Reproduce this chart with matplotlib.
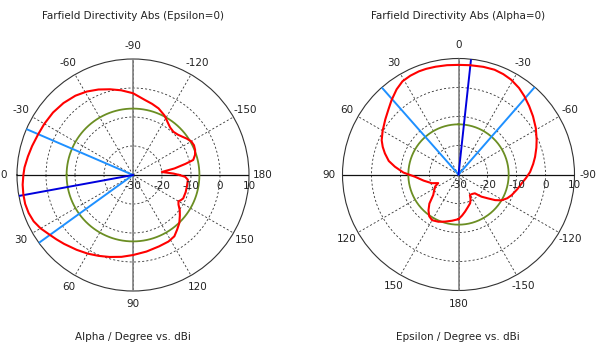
import matplotlib
matplotlib.use("Agg")
import matplotlib.pyplot as plt
import matplotlib.transforms as mtransforms
import numpy as np

# Epsilon = 0 cut: angle Alpha (deg) vs directivity (dBi)
alpha_deg = [-180, -178, -174, -171, -168, -166, -162, -158, -154, -150, -146, -142,
             -138, -133, -128, -124, -118, -111, -105, -99, -90, -82, -75, -68,
             -61, -54, -46, -38, -30, -23, -16, -10, -4, 0, 5, 10, 15, 20, 25,
             30, 35, 40, 45, 53, 60, 67, 74, 82, 90, 100, 110, 118, 124, 129,
             134, 139, 143, 147, 150, 152, 155, 162, 168, 175, 178, 180]
alpha_dbi = [-14.0, -16.0, -20.0, -15.5, -11.5, -8.6, -7.5, -6.9, -6.6, -6.8, -7.6, -8.5,
             -9.2, -9.6, -9.2, -8.4, -6.8, -5.4, -4.6, -3.8, -1.8, -0.5, 0.6, 1.8,
             2.9, 3.8, 4.5, 5.0, 5.3, 5.6, 6.2, 6.8, 7.5, 7.8, 8.2, 8.4, 8.5, 8.3, 7.8,
             6.8, 5.5, 4.5, 3.6, 2.3, 1.3, 0.3, -0.6, -1.5, -2.4, -3.2, -3.8, -4.0, -4.5, -5.8,
             -7.0, -8.6, -9.8, -11.3, -11.9, -11.4, -10.9, -10.9, -11.0, -11.0, -12.0, -14.0]
alpha_main = 10.4
alpha_3db = [-23.3, 35.8]
alpha_sll = -7.1

# Alpha = 0 cut: angle Epsilon (deg) vs directivity (dBi)
eps_deg = [-180, -175, -170, -164, -158, -154, -151, -145, -139, -134, -129, -125,
           -121, -116, -111, -104, -98, -93, -88, -82, -77, -71, -66, -59, -52,
           -46, -40, -35, -29, -24, -19, -13, -6, 0, 6, 12, 17, 21, 26, 31, 36,
           42, 47, 53, 60, 66, 70, 74, 79, 83, 88, 93, 100, 108, 113, 117, 123,
           129, 135, 140, 145, 150, 157, 164, 172, 180]
eps_dbi = [-14.6, -15.8, -17.0, -18.3, -19.3, -20.5, -21.9, -21.8, -21.4, -19.0, -16.9, -14.6,
           -12.7, -11.3, -10.3, -9.1, -8.0, -6.7, -5.3, -4.0, -2.9, -1.6, -0.5, 1.1, 2.6,
           3.9, 5.3, 6.4, 7.4, 7.9, 8.2, 8.1, 7.9, 7.8, 7.9, 8.0, 8.1, 8.1, 7.9, 7.5, 6.3,
           4.5, 3.0, 1.6, 0.2, -1.0, -2.2, -3.6, -5.5, -7.9, -11.0, -15.0, -17.8, -20.3, -22.4, -21.0, -20.0,
           -18.8, -15.8, -13.9, -12.4, -11.8, -12.3, -13.1, -13.9, -14.6]
eps_main = -6.2
eps_3db = [41.4, -41.1]
eps_sll = -12.7

grid_angles = list(range(0, 360, 30))
grid_labels = ["0", "30", "60", "90", "120", "150", "180",
               "-150", "-120", "-90", "-60", "-30"]
r_ticks = [-30, -20, -10, 0, 10]

RMIN, RMAX = -30, 10
FONT = "DejaVu Sans"
FS = 7.5


def setup_polar(ax, zero_loc, label_theta, vert_theta, horiz_theta):
    ax.set_theta_zero_location(zero_loc)
    ax.set_theta_direction(1)
    ax.set_rlim(RMIN, RMAX)
    ax.set_rticks(r_ticks[1:-1])
    ax.set_yticklabels([])
    ax.set_thetagrids(grid_angles, grid_labels, fontsize=FS, family=FONT, color="#222")
    ax.tick_params(axis="x", pad=-1)
    ax.grid(True, color="#333333", ls=(0, (2.5, 2.5)), lw=0.6)
    ax.spines["polar"].set_color("#333333")
    ax.spines["polar"].set_linewidth(0.8)
    # solid axes through the centre
    for t in vert_theta:
        ax.plot([t, t], [RMIN, RMAX], color="#808080", lw=1.2, zorder=3)
    for t in horiz_theta:
        ax.plot([t, t], [RMIN, RMAX], color="#111111", lw=0.9, zorder=3)
    # radial scale along the horizontal axis
    off = mtransforms.offset_copy(ax.transData, fig=ax.figure, x=0, y=-11, units="dots")
    for r in r_ticks:
        ax.text(label_theta, r, str(r), transform=off, ha="center", va="center",
                fontsize=FS, family=FONT, color="#222", zorder=6)


def draw_pattern(ax, deg, dbi, main, edges, sll):
    full = np.linspace(0, 2 * np.pi, 361)
    ax.plot(full, np.full_like(full, sll), color="#6b8e23", lw=1.3, zorder=4)
    for t in edges:
        ax.plot(np.radians([t, t]), [RMIN, RMAX], color="#1e90ff", lw=1.4, zorder=4)
    ax.plot(np.radians([main, main]), [RMIN, RMAX], color="#0000dd", lw=1.4, zorder=4)
    ax.plot(np.radians(deg), dbi, color="#ff0000", lw=1.5, zorder=5)


fig = plt.figure(figsize=(5.96, 3.52), dpi=100)
w, h = 232 / 596, 232 / 352

ax1 = fig.add_axes([17 / 596, 61 / 352, w, h], projection="polar")
setup_polar(ax1, "W", np.pi, [np.pi / 2, -np.pi / 2], [0, np.pi])
draw_pattern(ax1, alpha_deg, alpha_dbi, alpha_main, alpha_3db, alpha_sll)

ax2 = fig.add_axes([342.5 / 596, 61.5 / 352, w, h], projection="polar")
setup_polar(ax2, "N", -np.pi / 2, [0, np.pi], [np.pi / 2, -np.pi / 2])
draw_pattern(ax2, eps_deg, eps_dbi, eps_main, eps_3db, eps_sll)

fig.text(133 / 596, 1 - 16 / 352, "Farfield Directivity Abs (Epsilon=0)",
         ha="center", va="center", fontsize=FS, family=FONT, color="#222")
fig.text(458 / 596, 1 - 16 / 352, "Farfield Directivity Abs (Alpha=0)",
         ha="center", va="center", fontsize=FS, family=FONT, color="#222")
fig.text(133 / 596, 1 - 337 / 352, "Alpha / Degree vs. dBi",
         ha="center", va="center", fontsize=FS, family=FONT, color="#222")
fig.text(458 / 596, 1 - 337 / 352, "Epsilon / Degree vs. dBi",
         ha="center", va="center", fontsize=FS, family=FONT, color="#222")

fig.savefig("out.png", dpi=100)
